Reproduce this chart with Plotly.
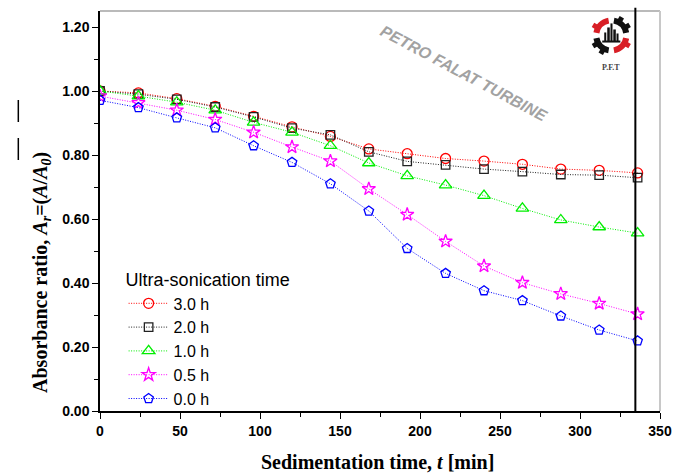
import base64
import plotly.graph_objects as go

# Sedimentation time [min]
t_min = [0, 24, 48, 72, 96, 120, 144, 168, 192, 216, 240, 264, 288, 312, 336]

# Absorbance ratio for each ultra-sonication time
ar_3h = [1.000, 0.994, 0.976, 0.952, 0.921, 0.888, 0.858, 0.819, 0.804, 0.789, 0.781, 0.771, 0.756, 0.752, 0.744]
ar_2h = [1.000, 0.990, 0.974, 0.950, 0.919, 0.884, 0.863, 0.810, 0.780, 0.769, 0.756, 0.748, 0.739, 0.737, 0.729]
ar_1h = [1.000, 0.984, 0.965, 0.940, 0.902, 0.871, 0.829, 0.775, 0.735, 0.706, 0.673, 0.633, 0.597, 0.575, 0.556]
ar_05h = [0.984, 0.963, 0.940, 0.911, 0.871, 0.825, 0.781, 0.694, 0.614, 0.530, 0.453, 0.401, 0.366, 0.336, 0.303]
ar_0h = [0.971, 0.948, 0.916, 0.885, 0.829, 0.777, 0.710, 0.625, 0.508, 0.430, 0.376, 0.345, 0.297, 0.253, 0.219]

series_names = ["3.0 h", "2.0 h", "1.0 h", "0.5 h", "0.0 h"]
series_values = [ar_3h, ar_2h, ar_1h, ar_05h, ar_0h]
series_colors = ["#ff0000", "#222222", "#00ee00", "#ff00ff", "#0000ff"]
series_symbols = ["circle-open", "square-open", "triangle-up-open", "star-open", "pentagon-open"]
series_sizes = [10, 8.5, 11, 10, 10]

x_ticks = [0, 50, 100, 150, 200, 250, 300, 350]
y_ticks = [0.0, 0.2, 0.4, 0.6, 0.8, 1.0, 1.2]

W, H = 683, 475
ML, MR, MT, MB = 100, 14, 11, 64
PW, PH = W - ML - MR, H - MT - MB


def px(xp):
    return (xp - ML) / PW


def py(yp):
    return (H - MB - yp) / PH


fig = go.Figure()
for name, vals, col, sym, sz in zip(series_names, series_values, series_colors,
                                    series_symbols, series_sizes):
    fig.add_trace(go.Scatter(
        x=t_min, y=vals, name=name, mode="lines+markers",
        line=dict(color=col, width=1, dash="1px,1.5px"),
        marker=dict(symbol=sym, size=sz, color=col, line=dict(color=col, width=1.3)),
    ))

tick_font = dict(family="Liberation Sans", size=14, color="black", weight="bold")

fig.update_xaxes(
    range=[0, 350], tickvals=x_ticks, ticks="outside", ticklen=6, tickwidth=1.2,
    tickcolor="black", showline=True, linecolor="black", linewidth=1.5,
    showgrid=False, zeroline=False, tickfont=tick_font,
    minor=dict(dtick=25, ticks="outside", ticklen=4, tickcolor="black", tickwidth=1.2, showgrid=False),
)
fig.update_yaxes(
    range=[0, 1.25], tickvals=y_ticks, tickformat=".2f", ticks="outside", ticklen=6,
    tickwidth=1.2, tickcolor="black", showline=True, linecolor="black", linewidth=1.5,
    showgrid=False, zeroline=False, tickfont=tick_font,
    minor=dict(dtick=0.1, ticks="outside", ticklen=4, tickcolor="black", tickwidth=1.2, showgrid=False),
)

shapes = [
    # frame: top and right borders
    dict(type="line", xref="paper", yref="paper", x0=0, x1=1, y0=1, y1=1,
         line=dict(color="#777777", width=1.2)),
    dict(type="line", xref="paper", yref="paper", x0=1, x1=1, y0=0, y1=1,
         line=dict(color="#c8c8c8", width=2)),
    # end-of-measurement marker
    dict(type="line", xref="x", yref="paper", x0=334.6, x1=334.6, y0=0, y1=1.008,
         line=dict(color="black", width=2)),
    # overbars of the axis-title symbols
    dict(type="line", xref="paper", yref="paper", x0=px(17), x1=px(17), y0=py(122), y1=py(100),
         line=dict(color="black", width=1.5)),
    dict(type="line", xref="paper", yref="paper", x0=px(17), x1=px(17), y0=py(160), y1=py(138),
         line=dict(color="black", width=1.5)),
]

annotations = [
    dict(text="<b>Absorbance ratio, <i>A</i><sub><i>r</i></sub>=(<i>A</i>/<i>A</i><sub><i>0</i></sub>)</b>",
         xref="paper", yref="paper", x=px(40), y=py(272), textangle=-90, showarrow=False,
         font=dict(family="Liberation Serif", size=20, color="black"),
         xanchor="center", yanchor="middle"),
    dict(text="<b>Sedimentation time, <i>t</i> [min]</b>",
         xref="paper", yref="paper", x=px(382), y=py(462), showarrow=False,
         font=dict(family="Liberation Serif", size=20, color="black"),
         xanchor="center", yanchor="middle"),
    dict(text="PETRO FALAT TURBINE", xref="paper", yref="paper", x=px(470), y=py(73),
         textangle=28, showarrow=False, xanchor="center", yanchor="middle",
         font=dict(family="Liberation Sans", size=16, color="#a2a2a2", weight="bold", style="italic")),
    dict(text="P.F.T", xref="paper", yref="paper", x=px(619), y=py(67), showarrow=False,
         xanchor="center", yanchor="middle",
         font=dict(family="Liberation Serif", size=8, color="#444444", weight="bold")),
]

# company emblem: split gear ring with skyline
logo_svg = """<svg xmlns='http://www.w3.org/2000/svg' width='44' height='44' viewBox='-22 -22 44 44'>
<g fill='none' stroke-width='6'>
<path d='M -14.77 -2.60 A 15 15 0 0 1 -2.60 -14.77' stroke='#d81f26'/>
<path d='M 2.60 -14.77 A 15 15 0 0 1 14.77 -2.60' stroke='#111'/>
<path d='M 14.77 2.60 A 15 15 0 0 1 2.60 14.77' stroke='#d81f26'/>
<path d='M -2.60 14.77 A 15 15 0 0 1 -14.77 2.60' stroke='#111'/>
</g>
<g fill='#111'>
<rect x='-2.5' y='-21' width='5' height='5' transform='rotate(30)'/>
<rect x='-2.5' y='-21' width='5' height='5' transform='rotate(60)'/>
<rect x='-2.5' y='-21' width='5' height='5' transform='rotate(-120)'/>
<rect x='-2.5' y='-21' width='5' height='5' transform='rotate(-150)'/>
<rect x='-7' y='-3' width='2' height='9'/>
<rect x='-4' y='-8' width='2.5' height='14'/>
<rect x='-0.8' y='-12' width='2' height='18'/>
<rect x='2' y='-6' width='2.5' height='12'/>
<rect x='5.2' y='-2' width='2' height='8'/>
<rect x='-9' y='5' width='18' height='2'/>
</g>
<g fill='#d81f26'>
<rect x='-2.5' y='-21' width='5' height='5' transform='rotate(-60)'/>
<rect x='-2.5' y='-21' width='5' height='5' transform='rotate(120)'/>
</g>
</svg>"""
logo_uri = "data:image/svg+xml;base64," + base64.b64encode(logo_svg.encode()).decode()

fig.update_layout(
    width=W, height=H,
    margin=dict(l=ML, r=MR, t=MT, b=MB),
    paper_bgcolor="white", plot_bgcolor="white",
    shapes=shapes, annotations=annotations,
    images=[dict(source=logo_uri, xref="paper", yref="paper", x=px(597), y=py(13),
                 sizex=45 / PW, sizey=45 / PH, xanchor="left", yanchor="top",
                 sizing="contain", layer="above")],
    legend=dict(
        title=dict(text="Ultra-sonication time", font=dict(family="Liberation Sans", size=18, color="black")),
        font=dict(family="Liberation Sans", size=16, color="black"),
        x=px(124), y=py(263), xanchor="left", yanchor="top",
        bgcolor="rgba(0,0,0,0)", borderwidth=0, itemwidth=40,
        tracegroupgap=0,
    ),
    showlegend=True,
)

fig.write_html("out.html")
